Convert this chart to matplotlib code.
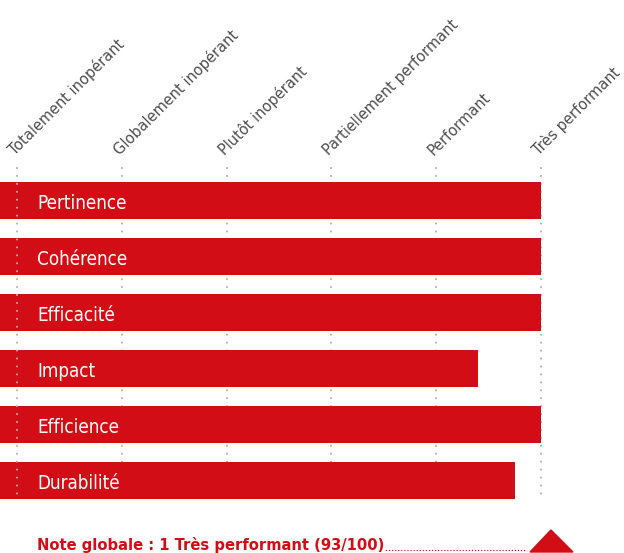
import matplotlib.pyplot as plt
from matplotlib.patches import Polygon

# evaluation levels shown on the top axis (scores 0..100)
levels = ['Totalement inopérant', 'Globalement inopérant', 'Plutôt inopérant',
          'Partiellement performant', 'Performant', 'Très performant']
level_scores = [0, 20, 40, 60, 80, 100]

criteria = ['Pertinence', 'Cohérence', 'Efficacité', 'Impact', 'Efficience', 'Durabilité']
scores = [100, 100, 100, 88, 100, 95]

summary = 'Note globale : 1 Très performant (93/100)'

RED = '#d30d16'
GREY = '#4d4d4d'
DOT = '#b0b0b0'

X0, X1 = -3.24, 115.84
Y_TOP, Y_BOT = -3.58, 6.295

fig = plt.figure(figsize=(6.24, 5.53), dpi=100)
ax = fig.add_axes([0, 0, 1, 1])
ax.set_xlim(X0, X1)
ax.set_ylim(Y_BOT, Y_TOP)
ax.axis('off')

rows = list(range(len(criteria)))

# dotted level guides; the first one sits on top of the bars
for i, s in enumerate(level_scores):
    ax.plot([s, s], [-0.58, 5.35], color=DOT, lw=1.5,
            linestyle=(0, (0.01, 3.8)), dash_capstyle='round',
            zorder=3 if i == 0 else 1)
    ax.text(s - 0.4, -0.795, levels[i], rotation=45, rotation_mode='anchor',
            ha='left', va='baseline', color=GREY, fontsize=11.7,
            fontstretch='condensed')

ax.barh(rows, [v - X0 for v in scores], left=X0, height=37 / 56,
        color=RED, zorder=2)

for r, name in zip(rows, criteria):
    ax.text(3.82, r + 0.05, name, color='white', fontsize=13.5, va='center',
            ha='left', fontstretch='condensed', zorder=4)

# summary line with leader dots and marker
ax.text(3.82, 6.24, summary, color=RED, fontsize=11.8, fontweight='bold',
        ha='left', va='baseline', fontstretch='condensed')
ax.plot([70.4, 97.3], [6.235, 6.235], color=RED, lw=1.0,
        linestyle=(0, (0.01, 2.2)), dash_capstyle='round')
ax.add_patch(Polygon([[97.9, 6.277], [101.9, 5.884], [106.1, 6.277]],
                     closed=True, color=RED, clip_on=False))

fig.savefig('out.png', dpi=100)
